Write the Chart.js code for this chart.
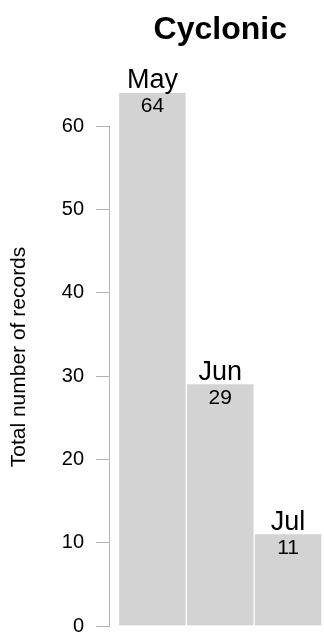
<!DOCTYPE html>
<html>
<head>
<meta charset="utf-8">
<script src="https://cdn.jsdelivr.net/npm/chart.js@4/dist/chart.umd.min.js"></script>
<style>
  html, body { margin: 0; padding: 0; background: #ffffff; }
  #wrap { width: 324px; height: 632px; }
</style>
</head>
<body>
<div id="wrap"><canvas id="chart" width="324" height="632"></canvas></div>
<script>
// Monthly record counts for the cyclonic pattern
const months = ['May', 'Jun', 'Jul'];
const records = [64, 29, 11];
const yTicks = [0, 10, 20, 30, 40, 50, 60];
const chartTitle = 'Cyclonic';
const yTitle = 'Total number of records';

const FONT = '"Liberation Sans", Arial, Helvetica, sans-serif';
const AXIS_GREY = '#b4b4b4';

// Text drawn around the bars: title, month names above, counts inside
const labelsPlugin = {
  id: 'barLabels',
  afterDatasetsDraw(chart) {
    const ctx = chart.ctx;
    const meta = chart.getDatasetMeta(0);
    const first = meta.data[0];
    const last = meta.data[meta.data.length - 1];
    const left = first.x - first.width / 2;
    const right = last.x + last.width / 2;

    ctx.save();
    ctx.fillStyle = '#000000';

    // title centred over the bars
    ctx.font = 'bold 32px ' + FONT;
    ctx.textAlign = 'center';
    ctx.textBaseline = 'alphabetic';
    ctx.fillText(chartTitle, (left + right) / 2, 39);

    meta.data.forEach((bar, i) => {
      ctx.font = '27px ' + FONT;
      ctx.textBaseline = 'alphabetic';
      ctx.fillText(months[i], bar.x, bar.y - 4.5);
      ctx.font = '21px ' + FONT;
      ctx.textBaseline = 'middle';
      ctx.fillText(String(records[i]), bar.x, bar.y + 14);
    });

    // vertical axis title
    ctx.translate(19, 357);
    ctx.rotate(-Math.PI / 2);
    ctx.font = '21px ' + FONT;
    ctx.textAlign = 'center';
    ctx.textBaseline = 'middle';
    ctx.fillText(yTitle, 0, 0);
    ctx.restore();
  }
};

new Chart(document.getElementById('chart'), {
  type: 'bar',
  data: {
    datasets: [{
      data: records.map((v, i) => ({ x: i, y: v })),
      backgroundColor: '#d3d3d3',
      borderColor: '#ffffff',
      borderWidth: { left: 1, right: 1, top: 0, bottom: 0 },
      borderSkipped: false,
      barPercentage: 1,
      categoryPercentage: 1,
      clip: false
    }]
  },
  options: {
    responsive: false,
    animation: false,
    events: [],
    layout: { padding: { top: 126, bottom: 6, left: 0, right: 2 } },
    plugins: {
      legend: { display: false },
      title: { display: false },
      tooltip: { enabled: false }
    },
    scales: {
      x: {
        type: 'linear',
        display: false,
        offset: false,
        grid: { offset: false },
        min: -0.64,
        max: 2.5,
        afterBuildTicks(scale) {
          scale.ticks = months.map((m, i) => ({ value: i }));
        }
      },
      y: {
        min: 0,
        max: 60,
        afterBuildTicks(scale) {
          scale.ticks = yTicks.map(v => ({ value: v }));
        },
        afterFit(scale) {
          scale.width = 109;
          scale.paddingTop = 0;
          scale.paddingBottom = 0;
        },
        border: { display: true, color: AXIS_GREY, width: 1 },
        grid: {
          drawOnChartArea: false,
          drawTicks: true,
          tickLength: 13,
          color: AXIS_GREY,
          lineWidth: 1
        },
        ticks: {
          padding: 12,
          color: '#000000',
          font: { family: FONT, size: 20 }
        }
      }
    }
  },
  plugins: [labelsPlugin]
});
</script>
</body>
</html>
